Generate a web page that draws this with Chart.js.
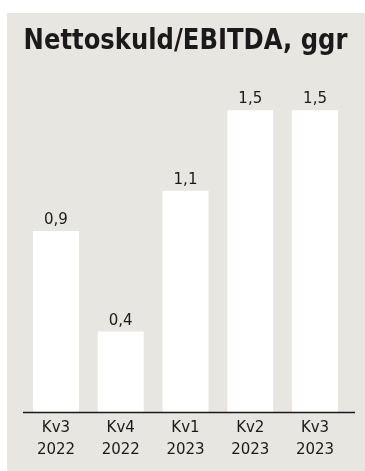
<!DOCTYPE html>
<html>
<head>
<meta charset="utf-8">
<script src="https://cdn.jsdelivr.net/npm/chart.js@4"></script>
<style>
  html, body { margin: 0; padding: 0; background: #ffffff; }
  #wrap { position: absolute; left: 0; top: 0; width: 365px; height: 471px; }
</style>
</head>
<body>
<div id="wrap"><canvas id="c" width="365" height="471"></canvas></div>
<script>
const title = "Nettoskuld/EBITDA, ggr";
const quarters = ["Kv3", "Kv4", "Kv1", "Kv2", "Kv3"];
const years = ["2022", "2022", "2023", "2023", "2023"];
const values = [0.9, 0.4, 1.1, 1.5, 1.5];

const PANEL = "#e8e6e1";
const INK = "#1a1a1a";

const panelPlugin = {
  id: "panel",
  beforeDraw(chart) {
    const ctx = chart.ctx;
    ctx.save();
    ctx.fillStyle = PANEL;
    ctx.fillRect(7, 13, 358, 458);
    ctx.restore();
  },
  afterDatasetsDraw(chart) {
    const ctx = chart.ctx;
    const area = chart.chartArea;
    ctx.save();
    ctx.strokeStyle = INK;
    ctx.lineWidth = 1.5;
    ctx.beginPath();
    ctx.moveTo(23, area.bottom + 0.5);
    ctx.lineTo(355, area.bottom + 0.5);
    ctx.stroke();
    const meta = chart.getDatasetMeta(0);
    ctx.fillStyle = INK;
    ctx.font = "15px 'DejaVu Sans'";
    ctx.textAlign = "center";
    ctx.textBaseline = "alphabetic";
    meta.data.forEach((bar, i) => {
      const v = chart.data.datasets[0].data[i];
      ctx.fillText(String(v).replace(".", ","), bar.x, bar.y - 7);
    });
    ctx.restore();
  }
};

new Chart(document.getElementById("c"), {
  type: "bar",
  data: {
    labels: quarters.map((q, i) => [q, years[i]]),
    datasets: [{
      data: values,
      backgroundColor: "#ffffff",
      borderWidth: 0,
      barPercentage: 0.71,
      categoryPercentage: 1.0
    }]
  },
  options: {
    responsive: false,
    animation: false,
    devicePixelRatio: 1,
    layout: { padding: { left: 23.6, right: 17.6, top: 0, bottom: 0 } },
    plugins: {
      legend: { display: false },
      tooltip: { enabled: false },
      title: {
        display: true,
        text: title,
        color: INK,
        font: { family: "'DejaVu Sans Condensed', 'DejaVu Sans'", size: 27.5, weight: "bold", lineHeight: 1.2 },
        padding: { top: 25.5, bottom: 11.5 }
      }
    },
    scales: {
      x: {
        grid: { display: false, drawTicks: false },
        border: { display: false },
        ticks: {
          color: INK,
          padding: 5,
          font: { family: "'DejaVu Sans'", size: 15, lineHeight: 1.45 }
        },
        afterFit(scale) { scale.height = 59; }
      },
      y: {
        display: false,
        min: 0,
        max: 1.7
      }
    }
  },
  plugins: [panelPlugin]
});
</script>
</body>
</html>
